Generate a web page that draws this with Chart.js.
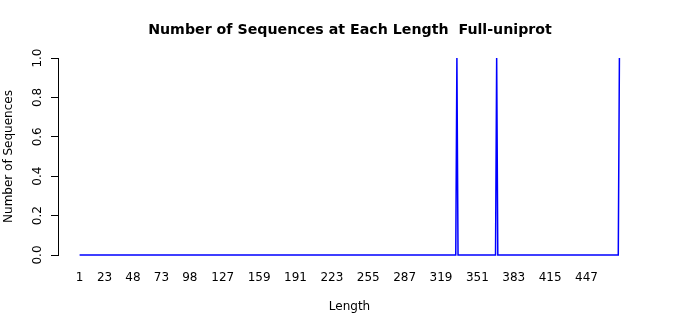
<!DOCTYPE html>
<html>
<head>
<meta charset="utf-8">
<script src="https://cdn.jsdelivr.net/npm/chart.js@4/dist/chart.umd.min.js"></script>
<style>
  html, body { margin: 0; padding: 0; background: #fff; }
  #wrap { width: 700px; height: 315px; }
</style>
</head>
<body>
<div id="wrap"><canvas id="myChart" width="700" height="315"></canvas></div>
<script>
'use strict';

// sequence lengths and how many sequences have that length
const lengths = [1, 332, 333, 334, 367, 368, 369, 475, 476];
const counts = [0, 0, 1, 0, 0, 1, 0, 0, 1];

// axis labels as printed on the original
const xTickLabels = [1, 23, 48, 73, 98, 127, 159, 191, 223, 255, 287, 319, 351, 383, 415, 447];
const yTickLabels = [0, 0.2, 0.4, 0.6, 0.8, 1.0];

let points = [];
for (let i = 0; i < lengths.length; i++) {
  points.push({x: lengths[i], y: counts[i]});
}

const font = 'DejaVu Sans';

new Chart(document.querySelector('#myChart'), {
  type: 'line',
  data: {
    datasets: [
      {
        data: points,
        borderColor: '#0000ff',
        borderWidth: 1.5,
        pointRadius: 0,
        tension: 0,
        fill: false,
        clip: false,
      },
    ],
  },
  options: {
    responsive: false,
    animation: false,
    layout: {
      padding: 0
    },
    plugins: {
      legend: {display: false},
      tooltip: {enabled: false},
      title: {
        display: true,
        text: 'Number of Sequences at Each Length  Full-uniprot',
        color: '#000',
        font: {family: font, size: 14.2, weight: 'bold'},
        padding: {top: 22, bottom: 19}
      }
    },
    scales: {
      x: {
        type: 'linear',
        min: -18,
        max: 495,
        afterBuildTicks: (scale) => {
          scale.ticks = xTickLabels.map((v) => ({value: v}));
        },
        afterFit: (scale) => { scale.height = 60; },
        grid: {display: false, drawTicks: false},
        border: {display: false},
        ticks: {
          autoSkip: false,
          maxRotation: 0,
          padding: 16,
          color: '#000',
          font: {family: font, size: 12},
          callback: (v) => String(v)
        },
        title: {
          display: true,
          text: 'Length',
          color: '#000',
          font: {family: font, size: 12},
          padding: {top: 0, bottom: 1}
        }
      },
      y: {
        min: 0,
        max: 1,
        afterBuildTicks: (scale) => {
          scale.ticks = yTickLabels.map((v) => ({value: v}));
        },
        afterFit: (scale) => { scale.width = 58; },
        grid: {
          drawOnChartArea: false,
          drawTicks: true,
          tickLength: 7,
          color: '#000'
        },
        border: {display: true, color: '#000', width: 1},
        ticks: {
          minRotation: 90,
          maxRotation: 90,
          crossAlign: 'center',
          padding: 4,
          color: '#000',
          font: {family: font, size: 12},
          callback: (v) => v.toFixed(1)
        },
        title: {
          display: true,
          text: 'Number of Sequences',
          color: '#000',
          font: {family: font, size: 12},
          padding: {top: 2, bottom: 0}
        }
      },
      // empty right margin, so the title stays centred on the page
      yRight: {
        position: 'right',
        min: 0,
        max: 1,
        afterFit: (scale) => { scale.width = 59; },
        grid: {display: false, drawTicks: false},
        border: {display: false},
        ticks: {display: false}
      }
    }
  }
});
</script>
</body>
</html>
